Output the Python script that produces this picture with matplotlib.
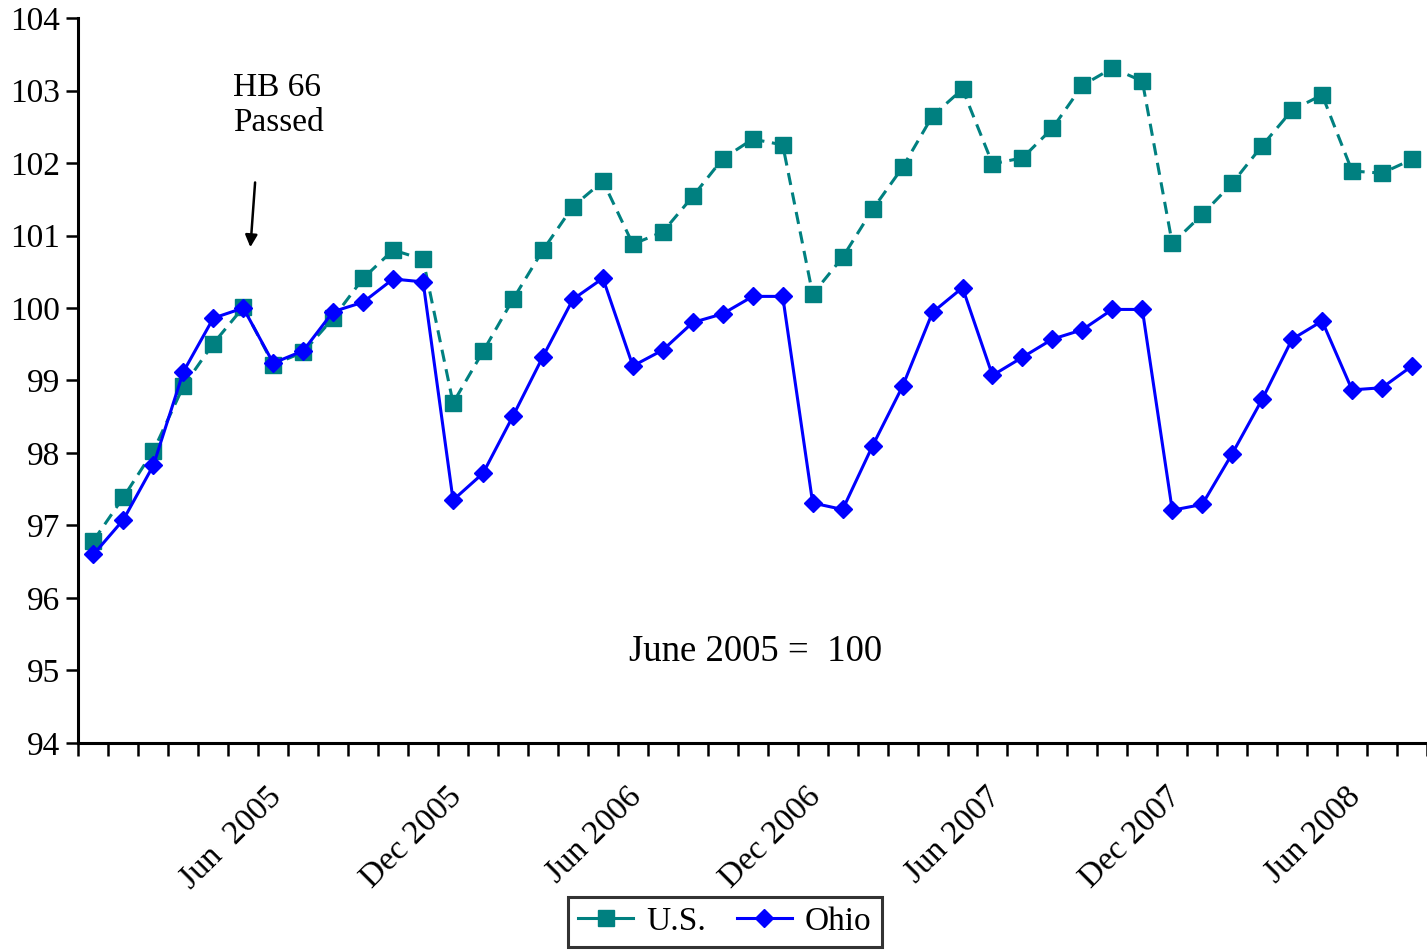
import matplotlib.pyplot as plt
import matplotlib.transforms as mtransforms
from matplotlib.lines import Line2D
import numpy as np
import pandas as pd

plt.rcParams['font.family'] = ['Liberation Serif', 'DejaVu Serif']

# monthly index, June 2005 = 100 (Jan 2005 .. Sep 2008)
months = list(pd.date_range('2005-01-01', periods=45, freq='MS').strftime('%b %Y'))

us = [96.79, 97.39, 98.03, 98.92, 99.51, 100.01, 99.22, 99.39, 99.86, 100.41, 100.80, 100.67,
      98.69, 99.40, 100.12, 100.80, 101.40, 101.75, 100.88, 101.05, 101.54, 102.06, 102.33, 102.25,
      100.19, 100.70, 101.36, 101.94, 102.65, 103.02, 101.99, 102.07, 102.48, 103.07, 103.31, 103.13,
      100.89, 101.29, 101.72, 102.24, 102.73, 102.94, 101.89, 101.86, 102.05]

ohio = [96.60, 97.08, 97.83, 99.12, 99.86, 100.00, 99.24, 99.41, 99.95, 100.08, 100.40, 100.36,
        97.35, 97.72, 98.51, 99.33, 100.12, 100.41, 99.20, 99.42, 99.80, 99.92, 100.16, 100.16,
        97.31, 97.22, 98.10, 98.92, 99.94, 100.28, 99.07, 99.32, 99.57, 99.70, 99.98, 99.98,
        97.21, 97.29, 97.99, 98.74, 99.57, 99.82, 98.87, 98.90, 99.20]

tick_months = ['Jun 2005', 'Dec 2005', 'Jun 2006', 'Dec 2006', 'Jun 2007', 'Dec 2007', 'Jun 2008']
tick_labels = ['Jun  2005', 'Dec 2005', 'Jun 2006', 'Dec 2006', 'Jun 2007', 'Dec 2007', 'Jun 2008']

fs = 24
us_col = '#008080'
oh_col = '#0000FF'
x = np.arange(len(months))

fig = plt.figure(figsize=(14.27, 9.5), dpi=100)
ax = fig.add_axes([0.055, 0.218, 0.945, 0.763])

ax.plot(x, us, color=us_col, lw=2.2, ls=(0, (4, 2.5)), marker='s', ms=12, zorder=3)
ax.plot(x, ohio, color=oh_col, lw=2.2, marker='D', ms=9, zorder=4)

ax.set_xlim(-0.5, len(months) - 0.5)
ax.set_ylim(94, 104)
ax.set_yticks(np.arange(94, 105, 1))

for s in ['top', 'right']:
    ax.spines[s].set_visible(False)
for s in ['left', 'bottom']:
    ax.spines[s].set_linewidth(2.2)

ax.tick_params(axis='y', direction='out', length=9, width=1.8, labelsize=fs, pad=4)

# category boundary ticks, labels every six months
ax.set_xticks(np.arange(-0.5, len(months)), minor=True)
ax.set_xticks([months.index(m) for m in tick_months], tick_labels)
ax.tick_params(axis='x', which='minor', direction='out', length=9, width=1.8)
ax.tick_params(axis='x', which='major', length=0, labelsize=fs, pad=28)
offset = mtransforms.ScaledTranslation(0.23, 0, fig.dpi_scale_trans)
for lbl in ax.get_xticklabels():
    lbl.set_rotation(45)
    lbl.set_ha('right')
    lbl.set_va('top')
    lbl.set_rotation_mode('anchor')
    lbl.set_transform(lbl.get_transform() + offset)

ax.text(4.67, 103.25, 'HB 66\nPassed', fontsize=fs, va='top', ha='left', linespacing=1.2)
ax.annotate('', xy=(5.23, 100.8), xytext=(5.4, 101.77),
            arrowprops=dict(arrowstyle='-|>', color='black', lw=1.8, mutation_scale=18))

ax.text(22.1, 95.26, 'June 2005 =  100', fontsize=26.5, ha='center', va='center')

# legend shows solid lines for both series
handles = [Line2D([], [], color=us_col, lw=2.2, marker='s', ms=12),
           Line2D([], [], color=oh_col, lw=2.2, marker='D', ms=9)]
leg = fig.legend(handles, ['U.S.', 'Ohio'], loc='lower center',
                 bbox_to_anchor=(725 / 1427, 3 / 950), ncol=2,
                 fontsize=fs, frameon=True, fancybox=False, edgecolor='black',
                 handlelength=1.65, handletextpad=0.4, columnspacing=0.9,
                 borderpad=0.3, borderaxespad=0)
leg.get_frame().set_linewidth(2.2)

fig.savefig('out.png', dpi=100)
